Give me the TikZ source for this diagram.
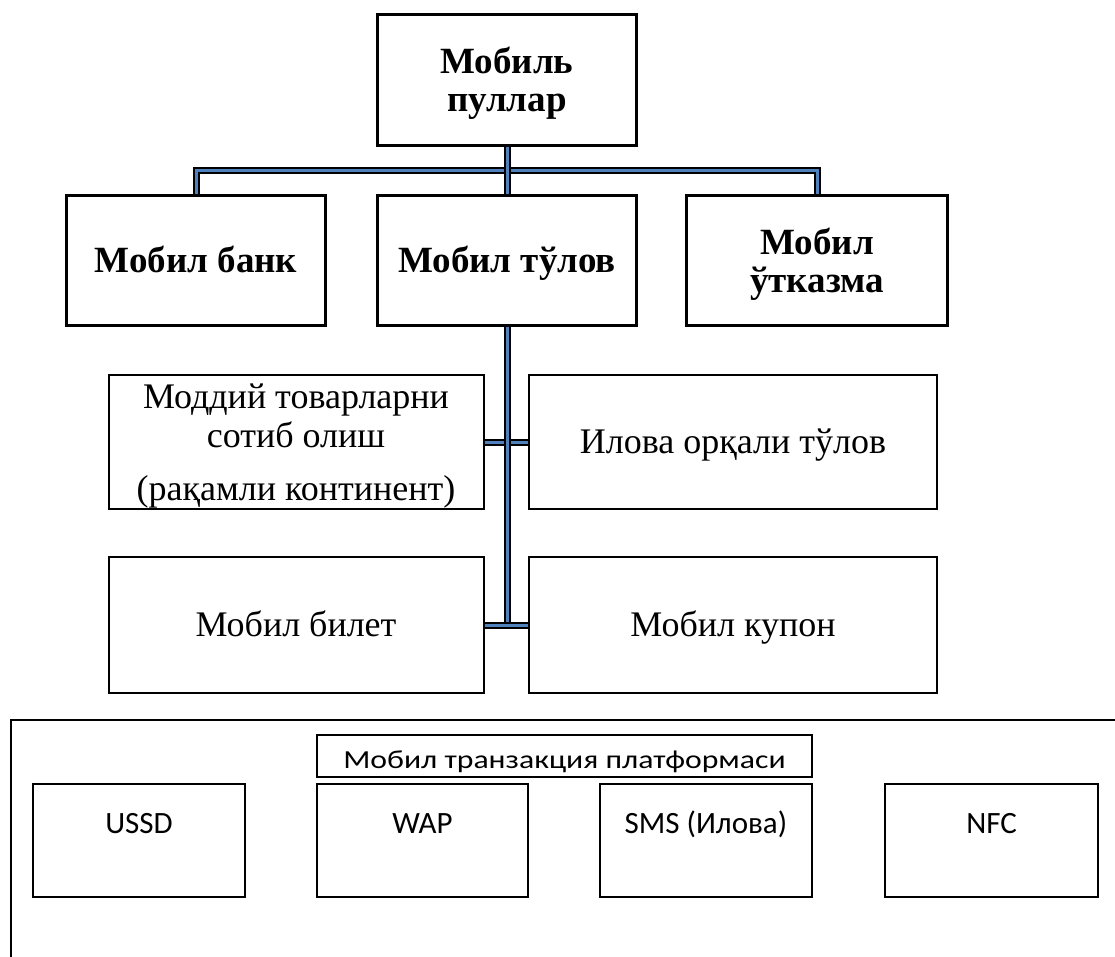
\documentclass[tikz,border=0pt]{standalone}
\usepackage{graphicx}
\usepackage{fontspec}
\setmainfont{Liberation Serif}
\newfontfamily\calibri{Carlito}
\begin{document}
\begin{tikzpicture}[x=1pt,y=-1pt,
            main box/.style={draw=black,line width=3pt,inner sep=0pt,align=center,
                text depth=0pt,font=\fontsize{37}{38}\selectfont\bfseries},
            sub box/.style={draw=black,line width=2pt,inner sep=0pt,align=center,
                text depth=0pt,font=\fontsize{36}{39}\selectfont},
            plat box/.style={draw=black,line width=2pt,inner sep=0pt,
                font=\calibri\fontsize{31}{36}\selectfont},
            item box/.style={plat box,anchor=north,minimum height=113,text height=49pt,text depth=64pt},
            link/.style={draw=black,line width=2pt,double={rgb,255:red,79;green,129;blue,189},double distance=3pt},
            ]
            \useasboundingbox (0,0) rectangle (1115,956);

            % upper part
            \node[main box, minimum width=259, minimum height=131] (1) at (507,79.5) {Мобиль\\пуллар};
            \node[main box, minimum width=259, minimum height=130, text height=25pt] (2) at (196,260) {Мобил банк};
            \node[main box, minimum width=259, minimum height=130, text height=25pt] (3) at (507,260) {Мобил тўлов};
            \node[main box, minimum width=261, minimum height=130] (4) at (817,260) {Мобил\\ўтказма};

            \node[sub box, minimum width=375, minimum height=134] (5) at (296,442) {Моддий товарларни\\сотиб олиш\\[14pt](рақамли континент)};
            \node[sub box, minimum width=408, minimum height=134, text height=23pt] (6) at (733,442) {Илова орқали тўлов};
            \node[sub box, minimum width=375, minimum height=136, text height=23pt] (7) at (296,625) {Мобил билет};
            \node[sub box, minimum width=408, minimum height=136, text height=23pt] (8) at (733,625) {Мобил купон};

            \coordinate (bar) at (507,170);
            \coordinate (end) at (507,625);

            \draw[link] (2.north) |- (bar) -| (4.north);
            \draw[link] (1.south) -- (3.north);
            \draw[link] (5.east) -- (6.west);
            \draw[link] (3.south) -- (end);
            \draw[link] (7.east) -- (8.west);

            % lower part
            \draw[line width=2pt] (1130,720) -| (11,970);
            \node[plat box, minimum width=495, minimum height=42, text height=33pt, text depth=9pt] (9) at (564.5,756)
                {\fontsize{26}{30}\selectfont\scalebox{1.22}[1]{Мобил транзакция платформаси}};
            \node[item box, minimum width=212] (10) at (139,783) {USSD};
            \node[item box, minimum width=211] (11) at (422.5,783) {WAP};
            \node[item box, minimum width=212] (12) at (706,783) {SMS (Илова)};
            \node[item box, minimum width=213] (13) at (991.5,783) {NFC};
        \end{tikzpicture}
\end{document}
